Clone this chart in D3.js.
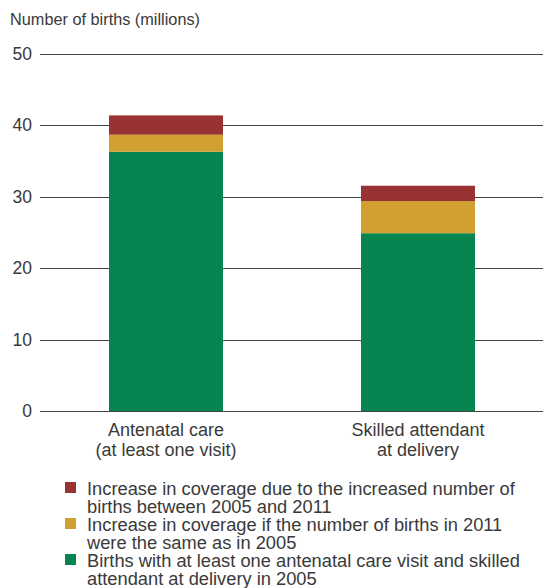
<!DOCTYPE html>
<html><head><meta charset="utf-8">
<script src="https://cdn.jsdelivr.net/npm/d3@7"></script>
<style>body{margin:0;background:#fff}svg{display:block}text{font-family:"Liberation Sans",Arial,sans-serif;fill:#3a3a3a}</style>
</head><body><svg id="c" width="543" height="588"></svg>
<script>
const categories = [["Antenatal care","(at least one visit)"],["Skilled attendant","at delivery"]];
const baseline2005 = [36.3, 24.9];
const sameBirths = [2.4, 4.5];
const moreBirths = [2.7, 2.15];
const yTicks = [0,10,20,30,40,50];
const seriesNames = ["Increase in coverage due to the increased number of|births between 2005 and 2011","Increase in coverage if the number of births in 2011|were the same as in 2005","Births with at least one antenatal care visit and skilled|attendant at delivery in 2005"];
const colors = ["#993333","#D0A030","#078550"];

const svg = d3.select("#c");
const y = d3.scaleLinear().domain([0,50]).range([411,54]);
const x = d3.scaleBand().domain([0,1]).range([109,475]).paddingInner(0.5476).paddingOuter(0);

svg.append("text").attr("x",10).attr("y",25).attr("font-size",16.3).text("Number of births (millions)");

const grid = svg.append("g");
yTicks.forEach(t=>{
  grid.append("line").attr("x1",40).attr("x2",543).attr("y1",Math.round(y(t))+0.5).attr("y2",Math.round(y(t))+0.5).attr("stroke","#444").attr("stroke-width",1.2);
  grid.append("text").attr("x",32).attr("y",y(t)+6).attr("text-anchor","end").attr("font-size",17.5).text(t);
});

const stacked = categories.map((c,i)=>[baseline2005[i], sameBirths[i], moreBirths[i]]);
const layerColors = [colors[2],colors[1],colors[0]];
stacked.forEach((vals,i)=>{
  let acc=0;
  vals.forEach((v,j)=>{
    svg.append("rect").attr("x",x(i)).attr("width",x.bandwidth())
      .attr("y",y(acc+v)).attr("height",y(acc)-y(acc+v)).attr("fill",layerColors[j]);
    acc+=v;
  });
});
svg.append("line").attr("x1",40).attr("x2",543).attr("y1",411.5).attr("y2",411.5).attr("stroke","#444").attr("stroke-width",1.2);

categories.forEach((c,i)=>{
  c.forEach((l,k)=>{
    svg.append("text").attr("x",x(i)+x.bandwidth()/2).attr("y",436+k*20).attr("text-anchor","middle").attr("font-size",18).text(l);
  });
});

const leg = svg.append("g");
seriesNames.forEach((s,i)=>{
  const y0 = 482 + i*36;
  leg.append("rect").attr("x",65).attr("y",y0).attr("width",11).attr("height",11).attr("fill",colors[i]);
  s.split("|").forEach((l,k)=>{
    leg.append("text").attr("x",87).attr("y",y0+12.5+k*18.3).attr("font-size",18.3).text(l);
  });
});
</script></body></html>
